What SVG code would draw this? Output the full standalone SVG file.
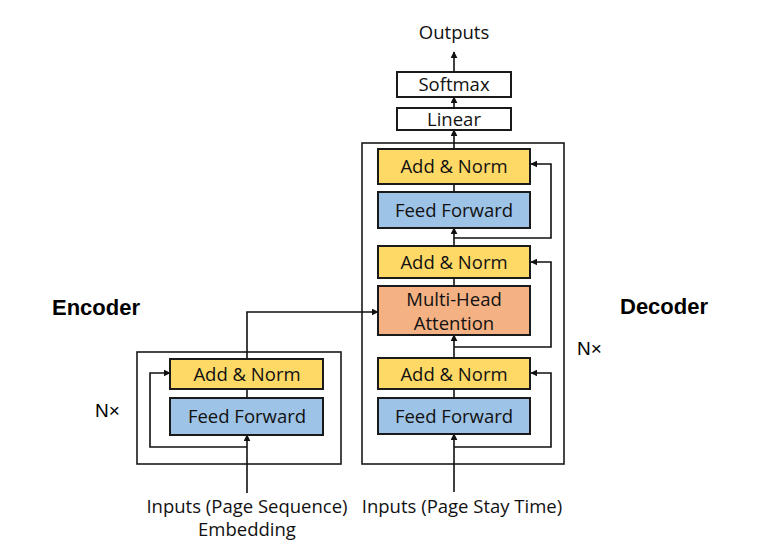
<svg xmlns="http://www.w3.org/2000/svg" width="766" height="554" viewBox="0 0 766 554">
<style>
.box{stroke:#1a1a1a;stroke-width:2}
.an{fill:#FFD966}
.ff{fill:#9DC3E6}
.mh{fill:#F4B183}
.wh{fill:#fff}
.frame{fill:none;stroke:#1a1a1a;stroke-width:1.6}
.t{font-family:"Open Sans",sans-serif;font-size:18.5px;fill:#111;text-anchor:middle}
.h{font-family:"Liberation Sans",Arial,sans-serif;font-weight:bold;font-size:22px;fill:#000}
.n{font-family:"Liberation Sans",Arial,sans-serif;font-size:19px;fill:#000}
.c{fill:none;stroke:#111;stroke-width:1.6}
</style>
<defs>
<marker id="ah" viewBox="0 0 10 10" refX="9" refY="5" markerWidth="7" markerHeight="7" markerUnits="userSpaceOnUse" orient="auto">
<path d="M0,0 L10,5 L0,10 z" fill="#111"/>
</marker>
</defs>
<rect class="frame" x="362" y="143" width="202" height="321"/>
<rect class="frame" x="137" y="352" width="204" height="112"/>
<g id="connectors">
<path class="c" d="M454,72 L454,52" marker-end="url(#ah)"/>
<path class="c" d="M454,108 L454,97" marker-end="url(#ah)"/>
<path class="c" d="M454,149 L454,130" marker-end="url(#ah)"/>
<path class="c" d="M454,192 L454,184"/>
<path class="c" d="M454,246 L454,228" marker-end="url(#ah)"/>
<path class="c" d="M454,238 L551,238 L551,164 L531,164" marker-end="url(#ah)"/>
<path class="c" d="M454,286 L454,278"/>
<path class="c" d="M454,358 L454,335" marker-end="url(#ah)"/>
<path class="c" d="M454,347 L551,347 L551,262 L531,262" marker-end="url(#ah)"/>
<path class="c" d="M454,398 L454,389"/>
<path class="c" d="M454,492 L454,434" marker-end="url(#ah)"/>
<path class="c" d="M454,447 L551,447 L551,373 L531,373" marker-end="url(#ah)"/>
<path class="c" d="M247,398 L247,389"/>
<path class="c" d="M247,493 L247,435" marker-end="url(#ah)"/>
<path class="c" d="M247,447 L150,447 L150,373 L170,373" marker-end="url(#ah)"/>
<path class="c" d="M247,359 L247,312 L378,312" marker-end="url(#ah)"/>
</g>
<g id="softmax"><rect class="box wh" x="397" y="72" width="114" height="25"/><text class="t" x="454" y="91">Softmax</text></g>
<g id="linear"><rect class="box wh" x="397" y="108" width="114" height="22"/><text class="t" x="454" y="126">Linear</text></g>
<g id="dec-addnorm3"><rect class="box an" x="378" y="149" width="152" height="35"/><text class="t" x="454" y="173">Add &amp; Norm</text></g>
<g id="dec-ff2"><rect class="box ff" x="378" y="192" width="152" height="36"/><text class="t" x="454" y="216.5">Feed Forward</text></g>
<g id="dec-addnorm2"><rect class="box an" x="378" y="246" width="152" height="32"/><text class="t" x="454" y="269">Add &amp; Norm</text></g>
<g id="dec-mha"><rect class="box mh" x="378" y="286" width="152" height="49"/><text class="t" x="454" y="305.5">Multi-Head</text><text class="t" x="454" y="329.5">Attention</text></g>
<g id="dec-addnorm1"><rect class="box an" x="378" y="358" width="152" height="31"/><text class="t" x="454" y="380.5">Add &amp; Norm</text></g>
<g id="dec-ff1"><rect class="box ff" x="378" y="398" width="152" height="36"/><text class="t" x="454" y="422.5">Feed Forward</text></g>
<g id="enc-addnorm"><rect class="box an" x="170" y="359" width="153" height="30"/><text class="t" x="247" y="381">Add &amp; Norm</text></g>
<g id="enc-ff"><rect class="box ff" x="170" y="398" width="153" height="37"/><text class="t" x="247" y="423">Feed Forward</text></g>
<g id="labels">
<text class="t" x="454" y="39">Outputs</text>
<text class="t" x="462" y="513">Inputs (Page Stay Time)</text>
<text class="t" x="247" y="513">Inputs (Page Sequence)</text>
<text class="t" x="247" y="536">Embedding</text>
<text class="h" x="52" y="315">Encoder</text>
<text class="h" x="620" y="314">Decoder</text>
<text class="n" x="95" y="417">N×</text>
<text class="n" x="577" y="355">N×</text>
</g>
</svg>
